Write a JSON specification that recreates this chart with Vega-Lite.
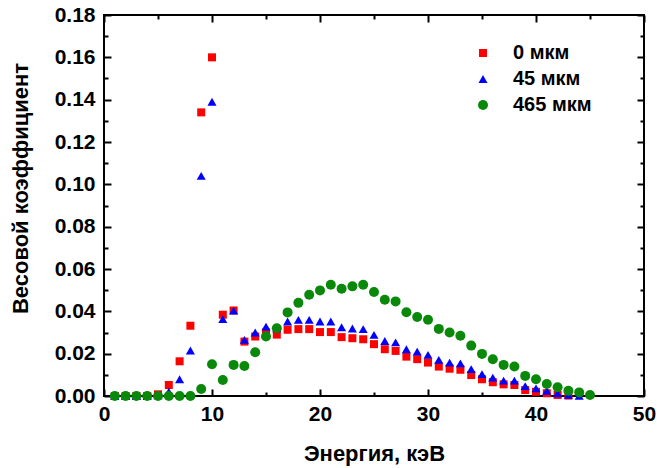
{
  "$schema": "https://vega.github.io/schema/vega-lite/v6.json",
  "width": 540,
  "height": 381,
  "autosize": {"type": "none"},
  "padding": {"left": 104, "top": 15, "right": 16, "bottom": 72},
  "background": "white",
  "config": {
    "view": {"stroke": "#000", "strokeWidth": 2},
    "font": "Liberation Sans",
    "axis": {"grid": false, "domain": false, "labelFont": "Liberation Sans", "titleFont": "Liberation Sans", "labelColor": "#000", "titleColor": "#000", "tickColor": "#000"}
  },
  "data": {"values": [
    {"e":1,"w":0,"s":"0 мкм"},{"e":2,"w":0,"s":"0 мкм"},{"e":3,"w":0,"s":"0 мкм"},{"e":4,"w":0,"s":"0 мкм"},{"e":5,"w":0.0008,"s":"0 мкм"},{"e":6,"w":0.0052,"s":"0 мкм"},{"e":7,"w":0.0164,"s":"0 мкм"},{"e":8,"w":0.0332,"s":"0 мкм"},{"e":9,"w":0.134,"s":"0 мкм"},{"e":10,"w":0.16,"s":"0 мкм"},
    {"e":11,"w":0.0384,"s":"0 мкм"},{"e":12,"w":0.0404,"s":"0 мкм"},{"e":13,"w":0.0257,"s":"0 мкм"},{"e":14,"w":0.0281,"s":"0 мкм"},{"e":15,"w":0.030,"s":"0 мкм"},{"e":16,"w":0.029,"s":"0 мкм"},{"e":17,"w":0.0313,"s":"0 мкм"},{"e":18,"w":0.0316,"s":"0 мкм"},{"e":19,"w":0.0316,"s":"0 мкм"},{"e":20,"w":0.0302,"s":"0 мкм"},
    {"e":21,"w":0.0302,"s":"0 мкм"},{"e":22,"w":0.0278,"s":"0 мкм"},{"e":23,"w":0.0273,"s":"0 мкм"},{"e":24,"w":0.0268,"s":"0 мкм"},{"e":25,"w":0.0245,"s":"0 мкм"},{"e":26,"w":0.0221,"s":"0 мкм"},{"e":27,"w":0.0213,"s":"0 мкм"},{"e":28,"w":0.0186,"s":"0 мкм"},{"e":29,"w":0.0174,"s":"0 мкм"},{"e":30,"w":0.0158,"s":"0 мкм"},
    {"e":31,"w":0.0139,"s":"0 мкм"},{"e":32,"w":0.0129,"s":"0 мкм"},{"e":33,"w":0.0124,"s":"0 мкм"},{"e":34,"w":0.0099,"s":"0 мкм"},{"e":35,"w":0.0079,"s":"0 мкм"},{"e":36,"w":0.0065,"s":"0 мкм"},{"e":37,"w":0.0055,"s":"0 мкм"},{"e":38,"w":0.0052,"s":"0 мкм"},{"e":39,"w":0.0028,"s":"0 мкм"},{"e":40,"w":0.002,"s":"0 мкм"},
    {"e":41,"w":0.0013,"s":"0 мкм"},{"e":42,"w":0.0005,"s":"0 мкм"},{"e":43,"w":0.0002,"s":"0 мкм"},
    {"e":1,"w":0,"s":"45 мкм"},{"e":2,"w":0,"s":"45 мкм"},{"e":3,"w":0,"s":"45 мкм"},{"e":4,"w":0,"s":"45 мкм"},{"e":5,"w":0.0003,"s":"45 мкм"},{"e":6,"w":0.002,"s":"45 мкм"},{"e":7,"w":0.0079,"s":"45 мкм"},{"e":8,"w":0.0215,"s":"45 мкм"},{"e":9,"w":0.104,"s":"45 мкм"},{"e":10,"w":0.139,"s":"45 мкм"},
    {"e":11,"w":0.0363,"s":"45 мкм"},{"e":12,"w":0.0403,"s":"45 мкм"},{"e":13,"w":0.0265,"s":"45 мкм"},{"e":14,"w":0.030,"s":"45 мкм"},{"e":15,"w":0.0328,"s":"45 мкм"},{"e":16,"w":0.032,"s":"45 мкм"},{"e":17,"w":0.0352,"s":"45 мкм"},{"e":18,"w":0.036,"s":"45 мкм"},{"e":19,"w":0.036,"s":"45 мкм"},{"e":20,"w":0.0352,"s":"45 мкм"},
    {"e":21,"w":0.0352,"s":"45 мкм"},{"e":22,"w":0.0325,"s":"45 мкм"},{"e":23,"w":0.0319,"s":"45 мкм"},{"e":24,"w":0.0316,"s":"45 мкм"},{"e":25,"w":0.0289,"s":"45 мкм"},{"e":26,"w":0.026,"s":"45 мкм"},{"e":27,"w":0.0253,"s":"45 мкм"},{"e":28,"w":0.0221,"s":"45 мкм"},{"e":29,"w":0.021,"s":"45 мкм"},{"e":30,"w":0.0194,"s":"45 мкм"},
    {"e":31,"w":0.0171,"s":"45 мкм"},{"e":32,"w":0.0158,"s":"45 мкм"},{"e":33,"w":0.0154,"s":"45 мкм"},{"e":34,"w":0.0127,"s":"45 мкм"},{"e":35,"w":0.0103,"s":"45 мкм"},{"e":36,"w":0.0087,"s":"45 мкм"},{"e":37,"w":0.0073,"s":"45 мкм"},{"e":38,"w":0.0073,"s":"45 мкм"},{"e":39,"w":0.0047,"s":"45 мкм"},{"e":40,"w":0.0036,"s":"45 мкм"},
    {"e":41,"w":0.0024,"s":"45 мкм"},{"e":42,"w":0.0013,"s":"45 мкм"},{"e":43,"w":0.0005,"s":"45 мкм"},{"e":44,"w":0.0001,"s":"45 мкм"},
    {"e":1,"w":0,"s":"465 мкм"},{"e":2,"w":0,"s":"465 мкм"},{"e":3,"w":0,"s":"465 мкм"},{"e":4,"w":0,"s":"465 мкм"},{"e":5,"w":0,"s":"465 мкм"},{"e":6,"w":0,"s":"465 мкм"},{"e":7,"w":0,"s":"465 мкм"},{"e":8,"w":0,"s":"465 мкм"},{"e":9,"w":0.0033,"s":"465 мкм"},{"e":10,"w":0.015,"s":"465 мкм"},
    {"e":11,"w":0.0076,"s":"465 мкм"},{"e":12,"w":0.0147,"s":"465 мкм"},{"e":13,"w":0.0142,"s":"465 мкм"},{"e":14,"w":0.0207,"s":"465 мкм"},{"e":15,"w":0.0281,"s":"465 мкм"},{"e":16,"w":0.032,"s":"465 мкм"},{"e":17,"w":0.0395,"s":"465 мкм"},{"e":18,"w":0.044,"s":"465 мкм"},{"e":19,"w":0.0478,"s":"465 мкм"},{"e":20,"w":0.0499,"s":"465 мкм"},
    {"e":21,"w":0.0526,"s":"465 мкм"},{"e":22,"w":0.0507,"s":"465 мкм"},{"e":23,"w":0.0518,"s":"465 мкм"},{"e":24,"w":0.0526,"s":"465 мкм"},{"e":25,"w":0.0491,"s":"465 мкм"},{"e":26,"w":0.0455,"s":"465 мкм"},{"e":27,"w":0.0447,"s":"465 мкм"},{"e":28,"w":0.0396,"s":"465 мкм"},{"e":29,"w":0.0373,"s":"465 мкм"},{"e":30,"w":0.036,"s":"465 мкм"},
    {"e":31,"w":0.0317,"s":"465 мкм"},{"e":32,"w":0.030,"s":"465 мкм"},{"e":33,"w":0.0285,"s":"465 мкм"},{"e":34,"w":0.0238,"s":"465 мкм"},{"e":35,"w":0.0199,"s":"465 мкм"},{"e":36,"w":0.0174,"s":"465 мкм"},{"e":37,"w":0.0147,"s":"465 мкм"},{"e":38,"w":0.0139,"s":"465 мкм"},{"e":39,"w":0.0095,"s":"465 мкм"},{"e":40,"w":0.0079,"s":"465 мкм"},
    {"e":41,"w":0.0057,"s":"465 мкм"},{"e":42,"w":0.0041,"s":"465 мкм"},{"e":43,"w":0.0025,"s":"465 мкм"},{"e":44,"w":0.0017,"s":"465 мкм"},{"e":45,"w":0.0005,"s":"465 мкм"}
  ]},
  "resolve": {"axis": {"x": "independent", "y": "independent"}},
  "layer": [
    {
      "mark": {"type": "point", "opacity": 0},
      "encoding": {
        "x": {"field": "e", "type": "quantitative", "scale": {"domain": [0, 50], "nice": false},
              "axis": {"orient": "bottom", "values": [0,10,20,30,40,50], "labels": false, "ticks": true, "tickSize": -7, "tickWidth": 2, "title": null}},
        "y": {"field": "w", "type": "quantitative", "scale": {"domain": [0, 0.18], "nice": false},
              "axis": {"orient": "left", "values": [0,0.02,0.04,0.06,0.08,0.1,0.12,0.14,0.16,0.18], "labels": false, "ticks": true, "tickSize": -7, "tickWidth": 2, "title": null}}
      }
    },
    {
      "mark": {"type": "point", "opacity": 0},
      "encoding": {
        "x": {"field": "e", "type": "quantitative",
              "axis": {"orient": "bottom", "values": [5,15,25,35,45], "labels": false, "ticks": true, "tickSize": -4, "tickWidth": 2, "title": null}},
        "y": {"field": "w", "type": "quantitative",
              "axis": {"orient": "left", "values": [0.01,0.03,0.05,0.07,0.09,0.11,0.13,0.15,0.17], "labels": false, "ticks": true, "tickSize": -4, "tickWidth": 2, "title": null}}
      }
    },
    {
      "mark": {"type": "point", "opacity": 0},
      "encoding": {
        "x": {"field": "e", "type": "quantitative",
              "axis": {"orient": "top", "values": [0,10,20,30,40,50], "labels": false, "ticks": true, "tickSize": -7, "tickWidth": 2, "title": null}},
        "y": {"field": "w", "type": "quantitative",
              "axis": {"orient": "right", "values": [0,0.02,0.04,0.06,0.08,0.1,0.12,0.14,0.16,0.18], "labels": false, "ticks": true, "tickSize": -7, "tickWidth": 2, "title": null}}
      }
    },
    {
      "mark": {"type": "point", "opacity": 0},
      "encoding": {
        "x": {"field": "e", "type": "quantitative",
              "axis": {"orient": "top", "values": [5,15,25,35,45], "labels": false, "ticks": true, "tickSize": -4, "tickWidth": 2, "title": null}},
        "y": {"field": "w", "type": "quantitative",
              "axis": {"orient": "right", "values": [0.01,0.03,0.05,0.07,0.09,0.11,0.13,0.15,0.17], "labels": false, "ticks": true, "tickSize": -4, "tickWidth": 2, "title": null}}
      }
    },
    {
      "mark": {"type": "point", "filled": true, "opacity": 1},
      "encoding": {
        "x": {"field": "e", "type": "quantitative",
              "axis": {"orient": "bottom", "values": [0,10,20,30,40,50], "ticks": false, "labelFontSize": 21, "labelFontWeight": "bold", "labelPadding": 7, "labelFlush": false,
                       "title": "Энергия, кэВ", "titleFontSize": 22, "titleFontWeight": "bold", "titleX": 270, "titleY": 64, "titleBaseline": "alphabetic", "titleAlign": "center"}},
        "y": {"field": "w", "type": "quantitative",
              "axis": {"orient": "left", "values": [0,0.02,0.04,0.06,0.08,0.1,0.12,0.14,0.16,0.18], "format": ".2f", "ticks": false, "labelFontSize": 21, "labelFontWeight": "bold", "labelPadding": 9, "labelFlush": false,
                       "title": "Весовой коэффициент", "titleFontSize": 22, "titleFontWeight": "bold", "titleX": -77, "titleY": 173, "titleAngle": 270, "titleBaseline": "alphabetic", "titleAlign": "center"}},
        "color": {"field": "s", "type": "nominal", "sort": ["0 мкм", "45 мкм", "465 мкм"],
                  "scale": {"domain": ["0 мкм", "45 мкм", "465 мкм"], "range": ["#ff0000", "#0000ff", "#0a880a"]},
                  "legend": {"title": null, "orient": "none", "legendX": 369, "legendY": 28, "labelFontSize": 20, "labelFontWeight": "bold", "labelColor": "#000", "symbolSize": 45, "rowPadding": 6, "labelOffset": 20}},
        "shape": {"field": "s", "type": "nominal", "sort": ["0 мкм", "45 мкм", "465 мкм"],
                  "scale": {"domain": ["0 мкм", "45 мкм", "465 мкм"], "range": ["square", "triangle-up", "circle"]},
                  "legend": null},
        "size": {"field": "s", "type": "nominal", "sort": ["0 мкм", "45 мкм", "465 мкм"],
                  "scale": {"domain": ["0 мкм", "45 мкм", "465 мкм"], "range": [64, 100, 81]},
                  "legend": null}
      }
    }
  ]
}
